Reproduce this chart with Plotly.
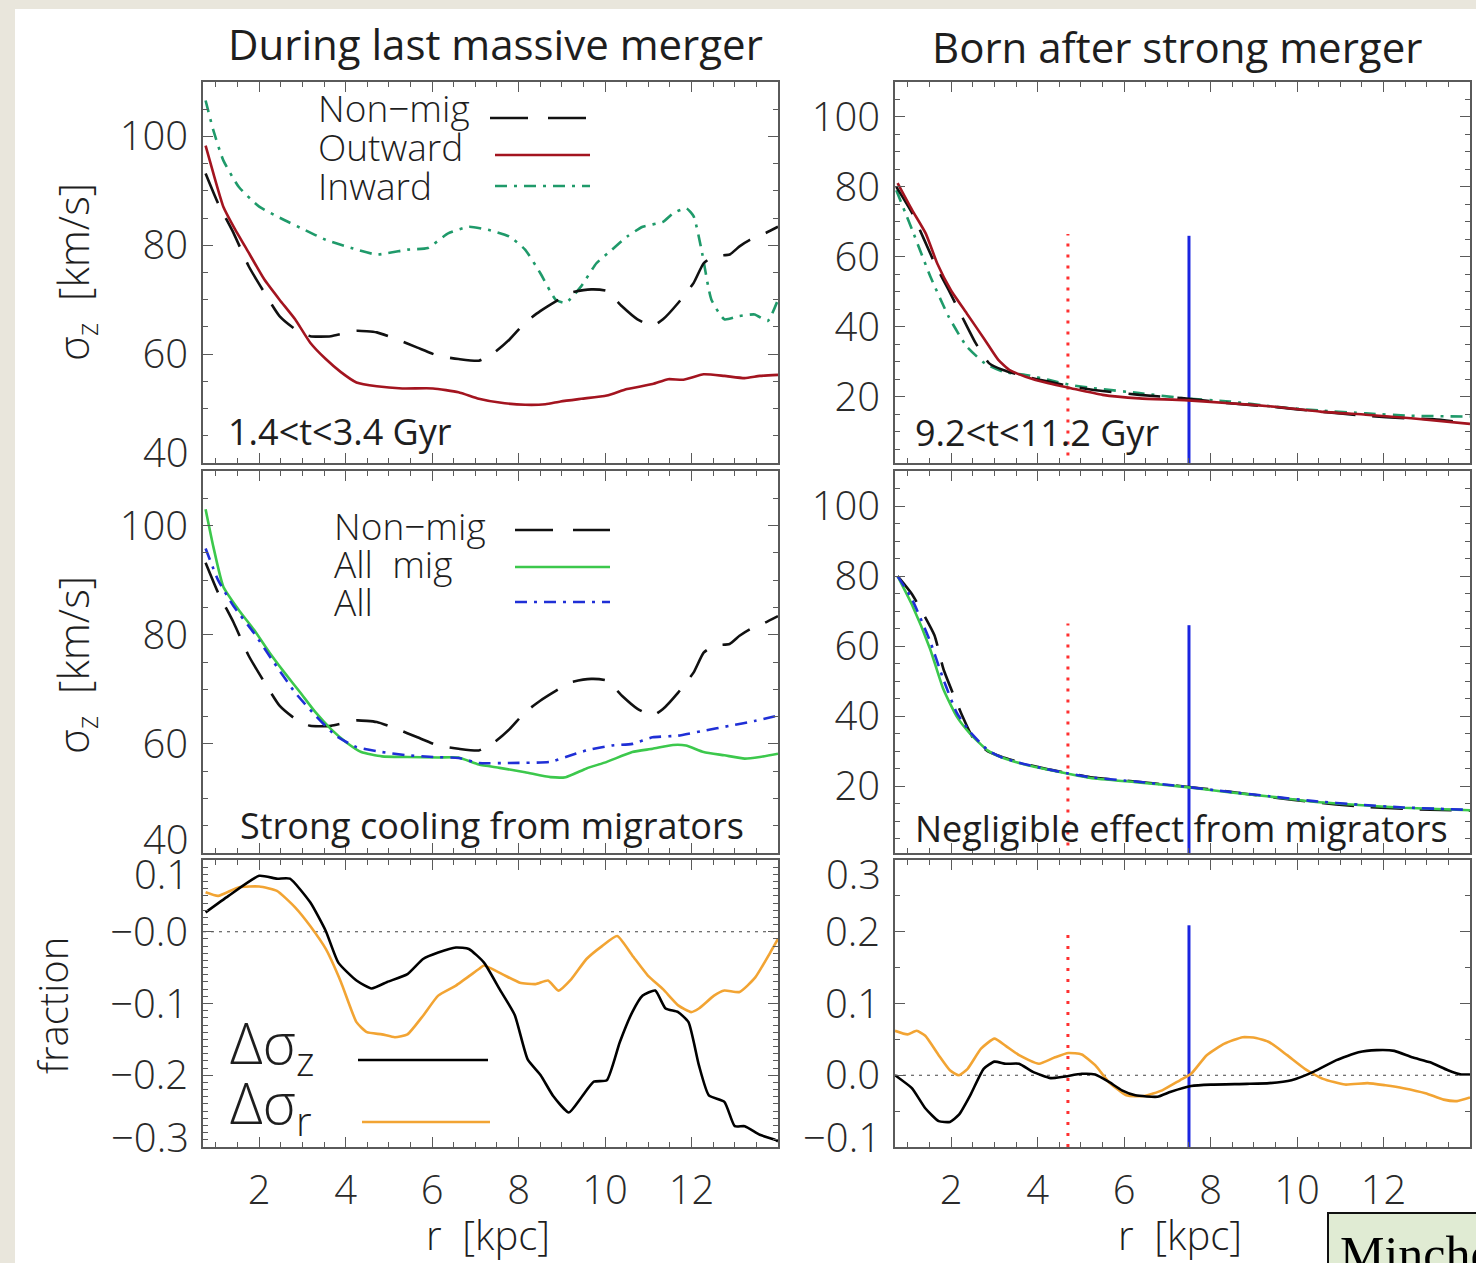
import plotly.graph_objects as go

# ---------------- data ----------------
# Top-left / middle-left: non-migrators (same curve in both panels)
r_nonmig_a = [0.76, 1.05, 1.41, 1.76, 2.12, 2.47, 2.83, 3.18, 3.66, 4.25, 4.72, 5.19, 5.66, 6.14, 6.61,
              7.08, 7.44, 7.79, 8.15, 8.5, 8.86, 9.21, 9.68, 10.04, 10.39, 10.75, 11.1, 11.34, 11.69,
              12.05, 12.28, 12.52, 12.88, 13.11, 13.35, 13.7, 14.0]
s_nonmig_a = [93.2, 87.7, 82.2, 76.1, 71.3, 67.0, 64.6, 63.3, 63.3, 64.3, 64.0, 62.7, 61.2, 59.7, 59.1,
              58.8, 60.3, 62.7, 65.8, 67.9, 69.7, 71.3, 71.9, 71.6, 68.8, 66.4, 65.2, 66.4, 69.4,
              73.1, 76.7, 78.0, 78.3, 79.8, 81.0, 82.2, 83.4]

r_outward_a = [0.76, 0.94, 1.17, 1.41, 1.76, 2.12, 2.47, 2.83, 3.18, 3.54, 3.89, 4.25, 4.72, 5.31, 6.02,
               6.61, 7.08, 7.56, 8.15, 8.62, 8.97, 9.45, 10.04, 10.51, 11.1, 11.46, 11.81, 12.28, 12.76,
               13.23, 13.58, 14.0]
s_outward_a = [98.3, 93.2, 87.1, 83.4, 78.6, 73.7, 70.0, 66.4, 62.1, 59.1, 56.7, 54.8, 54.1, 53.7, 53.7,
               53.0, 51.8, 51.1, 50.7, 50.8, 51.3, 51.8, 52.4, 53.6, 54.5, 55.4, 55.3, 56.3, 56.0,
               55.6, 56.0, 56.2]

r_inward_a = [0.76, 0.94, 1.17, 1.53, 2.0, 2.59, 3.06, 3.54, 4.13, 4.72, 5.43, 5.9, 6.37, 6.85, 7.32,
              7.79, 8.15, 8.5, 8.86, 9.09, 9.45, 9.8, 10.16, 10.51, 10.87, 11.34, 11.58, 11.88, 12.05,
              12.23, 12.46, 12.76, 13.11, 13.46, 13.76, 14.0]
s_inward_a = [106.6, 101.1, 95.6, 90.7, 87.1, 84.6, 82.8, 81.0, 79.5, 78.3, 79.2, 79.5, 82.2, 83.4, 82.8,
              81.6, 79.2, 74.9, 70.0, 69.4, 72.5, 76.7, 79.2, 81.6, 83.4, 84.3, 85.9, 86.8, 85.3,
              79.2, 70.0, 66.4, 67.0, 67.3, 66.1, 70.0]

r_allmig_a = [0.76, 0.94, 1.17, 1.53, 1.88, 2.24, 2.59, 2.95, 3.3, 3.66, 4.01, 4.36, 4.84, 5.43, 6.14,
              6.61, 7.08, 7.56, 8.15, 8.74, 9.09, 9.57, 10.04, 10.63, 11.1, 11.57, 11.87, 12.28, 12.76,
              13.23, 13.58, 14.0]
s_allmig_a = [103.0, 96.1, 88.8, 84.5, 80.9, 76.7, 73.0, 69.4, 65.8, 62.7, 60.3, 58.5, 57.7, 57.6, 57.5,
              57.5, 56.2, 55.6, 54.8, 53.9, 53.9, 55.5, 56.7, 58.5, 59.1, 59.8, 59.7, 58.5, 57.9,
              57.3, 57.6, 58.2]

r_all_a = [0.76, 1.05, 1.41, 1.88, 2.35, 2.83, 3.3, 3.77, 4.25, 4.84, 5.43, 6.02, 6.61, 7.08, 7.79,
           8.74, 9.09, 9.57, 10.16, 10.63, 11.1, 11.69, 12.28, 12.88, 13.46, 14.0]
s_all_a = [95.8, 90.0, 85.2, 80.3, 74.8, 69.4, 65.2, 61.5, 59.4, 58.5, 57.9, 57.6, 57.4, 56.5, 56.5,
           56.7, 57.6, 58.8, 59.7, 60.0, 61.2, 61.5, 62.4, 63.3, 64.2, 65.2]

# Right column (born after strong merger)
r_outward_b = [0.76, 1.1, 1.41, 1.68, 1.99, 2.36, 2.78, 3.09, 3.35, 3.72, 4.25, 4.77, 5.5, 6.35, 7.39,
               8.44, 9.49, 10.54, 11.59, 12.64, 14.0]
s_outward_b = [81.1, 73.3, 66.7, 58.0, 50.5, 43.8, 36.2, 30.5, 27.6, 25.7, 23.8, 22.4, 20.5, 19.5, 19.0,
               18.1, 17.1, 15.7, 14.8, 13.8, 12.2]

r_nonmig_b = [0.73, 1.1, 1.62, 1.94, 2.25, 2.57, 2.88, 3.2, 3.72, 4.25, 4.77, 5.3, 6.35, 7.39, 8.44,
              9.49, 10.54, 11.59, 12.54, 13.17, 14.0]
s_nonmig_b = [80.0, 72.4, 58.1, 50.5, 42.9, 35.2, 29.5, 27.6, 25.7, 24.3, 22.9, 21.9, 20.5, 19.5, 18.1,
              17.0, 15.7, 14.5, 13.8, 13.5, 12.4]

r_inward_b = [0.73, 1.1, 1.52, 1.94, 2.36, 2.78, 3.2, 3.72, 4.25, 4.77, 5.3, 6.35, 7.39, 8.44, 9.49,
              10.54, 11.59, 12.64, 14.0]
s_inward_b = [79.0, 67.6, 54.3, 42.9, 34.3, 29.5, 27.1, 26.2, 24.8, 23.3, 22.4, 21.0, 19.5, 18.6, 17.1,
              16.0, 15.2, 14.5, 14.3]

r_mid_b = [0.76, 1.09, 1.51, 1.82, 2.13, 2.44, 2.85, 3.16, 3.68, 4.19, 4.71, 5.22, 6.26, 7.29, 8.32,
           9.36, 10.39, 11.42, 12.46, 14.0]
s_allmig_b = [80.0, 71.9, 59.3, 47.7, 39.9, 35.0, 30.2, 28.3, 26.3, 24.9, 23.6, 22.4, 21.2, 20.0, 18.5,
              17.1, 15.6, 14.7, 13.9, 13.2]
s_all_b = [80.0, 73.5, 61.5, 50.5, 41.0, 35.5, 30.3, 28.3, 26.4, 25.0, 23.7, 22.6, 21.4, 20.1, 18.6,
           17.2, 15.8, 14.8, 14.0, 13.3]
r_nonmig_mb = [0.76, 1.09, 1.61, 1.82, 2.23, 2.5, 2.85, 3.16, 3.68, 4.19, 4.71, 5.22, 6.26, 7.29, 8.32,
               9.36, 10.39, 11.42, 12.46, 14.0]
s_nonmig_mb = [80.0, 74.9, 63.2, 53.5, 40.9, 34.0, 30.0, 28.5, 26.5, 25.0, 23.8, 22.6, 21.4, 20.1, 18.7,
               17.0, 15.5, 14.3, 13.6, 13.1]

# Bottom panels: fractional differences
r_dz_a = [0.76, 1.29, 2.0, 2.41, 2.71, 3.18, 3.54, 3.83, 4.25, 4.6, 4.96, 5.43, 5.79, 6.14, 6.55, 6.85,
          7.2, 7.56, 7.91, 8.21, 8.51, 8.8, 9.16, 9.45, 9.74, 10.04, 10.34, 10.63, 10.87, 11.16, 11.4,
          11.69, 11.93, 12.17, 12.4, 12.76, 13.0, 13.23, 13.58, 13.94, 14.0]
f_dz_a = [0.027, 0.050, 0.078, 0.074, 0.074, 0.041, 0.001, -0.043, -0.068, -0.079, -0.070, -0.059,
          -0.038, -0.029, -0.022, -0.024, -0.043, -0.080, -0.116, -0.178, -0.200, -0.229, -0.252,
          -0.231, -0.209, -0.207, -0.154, -0.112, -0.089, -0.082, -0.107, -0.112, -0.126, -0.186,
          -0.228, -0.237, -0.271, -0.271, -0.283, -0.290, -0.292]

r_dr_a = [0.76, 1.05, 1.53, 2.0, 2.41, 2.83, 3.18, 3.54, 3.89, 4.25, 4.49, 4.84, 5.14, 5.43, 5.79, 6.14,
          6.55, 7.08, 7.2, 7.62, 8.03, 8.39, 8.68, 8.92, 9.22, 9.57, 9.93, 10.28, 10.63, 10.99, 11.34,
          11.7, 11.99, 12.17, 12.52, 12.76, 13.11, 13.47, 13.82, 14.0]
f_dr_a = [0.055, 0.050, 0.062, 0.063, 0.057, 0.034, 0.008, -0.024, -0.070, -0.126, -0.140, -0.143,
          -0.147, -0.143, -0.117, -0.089, -0.075, -0.052, -0.047, -0.059, -0.071, -0.073, -0.068,
          -0.082, -0.066, -0.038, -0.020, -0.006, -0.033, -0.061, -0.080, -0.103, -0.112, -0.107,
          -0.089, -0.082, -0.084, -0.064, -0.029, -0.010]

r_dz_b = [0.7, 1.09, 1.4, 1.71, 1.97, 2.18, 2.44, 2.75, 3.0, 3.26, 3.57, 3.88, 4.3, 4.6, 5.02, 5.33,
          5.64, 5.95, 6.26, 6.77, 7.08, 7.55, 8.01, 8.84, 9.36, 9.87, 10.39, 10.91, 11.42, 11.84, 12.25,
          12.66, 13.08, 13.49, 13.8, 14.0]
f_dz_b = [0.0, -0.018, -0.046, -0.064, -0.065, -0.055, -0.028, 0.009, 0.019, 0.016, 0.016, 0.005,
          -0.004, -0.002, 0.002, 0.001, -0.009, -0.021, -0.028, -0.030, -0.023, -0.015, -0.013, -0.012,
          -0.011, -0.007, 0.005, 0.021, 0.032, 0.035, 0.034, 0.025, 0.018, 0.007, 0.001, 0.001]

r_dr_b = [0.7, 0.99, 1.2, 1.4, 1.71, 1.97, 2.18, 2.38, 2.69, 3.0, 3.26, 3.57, 4.03, 4.4, 4.71, 5.02,
          5.33, 5.64, 6.05, 6.46, 6.88, 7.29, 7.55, 7.91, 8.32, 8.74, 9.05, 9.36, 9.77, 10.18, 10.6,
          11.11, 11.63, 12.04, 12.46, 12.97, 13.39, 13.7, 14.0]
f_dr_b = [0.062, 0.057, 0.062, 0.055, 0.028, 0.007, 0.0, 0.009, 0.037, 0.051, 0.041, 0.028, 0.016,
          0.025, 0.031, 0.029, 0.014, -0.009, -0.028, -0.029, -0.021, -0.007, 0.002, 0.028, 0.044,
          0.053, 0.052, 0.046, 0.028, 0.009, -0.005, -0.013, -0.011, -0.014, -0.018, -0.025, -0.034,
          -0.036, -0.031]

# reference radii (vertical markers) and their heights
r_marker_red = 4.7
r_marker_blue = 7.5
marker_top_sigma = [66.5, 66.0]
marker_top_frac = [0.203, 0.209]

x_ticks = [2, 4, 6, 8, 10, 12]
x_ticklabels = ["2", "4", "6", "8", "10", "12"]
y_ticks_a = [40, 60, 80, 100]
y_ticklabels_a = ["40", "60", "80", "100"]
y_ticks_b = [20, 40, 60, 80, 100]
y_ticklabels_b = ["20", "40", "60", "80", "100"]
f_ticks_a = [0.1, 0.0, -0.1, -0.2, -0.3]
f_ticklabels_a = ["0.1", "\u22120.0", "\u22120.1", "\u22120.2", "\u22120.3"]
f_ticks_b = [0.3, 0.2, 0.1, 0.0, -0.1]
f_ticklabels_b = ["0.3", "0.2", "0.1", "0.0", "\u22120.1"]

# ---------------- styling ----------------
W, H = 1476, 1263
BEIGE = "#e9e6dc"
FRAME = "#5a5a5a"
TXT = "#1e1e1e"
C_NONMIG = "#111111"
C_OUT = "#a3141f"
C_IN = "#1f9a6a"
C_ALLMIG = "#3cc84c"
C_ALL = "#1f2fd6"
C_ORANGE = "#f2a433"
C_RED = "#ff3030"
C_BLUE = "#1a24e0"
DASH_NM = "32px,17px"
DASH_DD = "12px,7px,3px,7px"
TICKSIZE = 40
TICKFONT = dict(family="Open Sans", size=TICKSIZE, color="#2a2a2a", weight=300)


def fx(p):
    return p / W


def fy(p):
    return 1 - p / H


XL = [fx(203), fx(778)]
XR = [fx(895), fx(1470)]
YT = [fy(463), fy(82)]
YM = [fy(853), fy(471)]
YB = [fy(1147), fy(860)]

fig = go.Figure()


def add_line(x, y, ax, color, dash="solid", width=2.6):
    fig.add_trace(go.Scatter(x=x, y=y, mode="lines", xaxis="x" + ax, yaxis="y" + ax,
                             line=dict(color=color, dash=dash, width=width, shape="spline", smoothing=0.5),
                             showlegend=False, hoverinfo="skip"))


def add_seg(x, y, ax, color, dash="solid", width=2.6):
    fig.add_trace(go.Scatter(x=x, y=y, mode="lines", xaxis="x" + ax, yaxis="y" + ax,
                             line=dict(color=color, dash=dash, width=width),
                             showlegend=False, hoverinfo="skip"))


# top-left
add_line(r_inward_a, s_inward_a, "", C_IN, DASH_DD)
add_line(r_nonmig_a, s_nonmig_a, "", C_NONMIG, DASH_NM)
add_line(r_outward_a, s_outward_a, "", C_OUT)
# top-right
add_seg([r_marker_red, r_marker_red], [0, marker_top_sigma[0]], "2", C_RED, "3px,8px", 3)
add_seg([r_marker_blue, r_marker_blue], [0, marker_top_sigma[1]], "2", C_BLUE, "solid", 3)
add_line(r_inward_b, s_inward_b, "2", C_IN, DASH_DD)
add_line(r_nonmig_b, s_nonmig_b, "2", C_NONMIG, DASH_NM)
add_line(r_outward_b, s_outward_b, "2", C_OUT)
# middle-left
add_line(r_nonmig_a, s_nonmig_a, "3", C_NONMIG, DASH_NM)
add_line(r_allmig_a, s_allmig_a, "3", C_ALLMIG)
add_line(r_all_a, s_all_a, "3", C_ALL, DASH_DD)
# middle-right
add_seg([r_marker_red, r_marker_red], [0, marker_top_sigma[0]], "4", C_RED, "3px,8px", 3)
add_seg([r_marker_blue, r_marker_blue], [0, marker_top_sigma[1]], "4", C_BLUE, "solid", 3)
add_line(r_nonmig_mb, s_nonmig_mb, "4", C_NONMIG, DASH_NM)
add_line(r_mid_b, s_allmig_b, "4", C_ALLMIG)
add_line(r_mid_b, s_all_b, "4", C_ALL, DASH_DD)
# bottom-left
add_seg([0.7, 14.0], [0, 0], "5", "#444444", "3px,5px", 1.2)
add_line(r_dr_a, f_dr_a, "5", C_ORANGE)
add_line(r_dz_a, f_dz_a, "5", "#000000")
# bottom-right
add_seg([0.7, 14.0], [0, 0], "6", "#444444", "3px,5px", 1.2)
add_seg([r_marker_red, r_marker_red], [-0.1, marker_top_frac[0]], "6", C_RED, "3px,8px", 3)
add_seg([r_marker_blue, r_marker_blue], [-0.1, marker_top_frac[1]], "6", C_BLUE, "solid", 3)
add_line(r_dr_b, f_dr_b, "6", C_ORANGE)
add_line(r_dz_b, f_dz_b, "6", "#000000")


def xax(domain, anchor, labels):
    return dict(domain=domain, anchor=anchor, range=[0.7, 14.0], tickvals=x_ticks, ticktext=x_ticklabels,
                showticklabels=labels, ticks="inside", ticklen=10, tickwidth=1.3, tickcolor=FRAME,
                minor=dict(ticks="inside", dtick=0.5, tick0=0, ticklen=5, tickcolor=FRAME, tickwidth=1),
                mirror="allticks", showline=True, linecolor=FRAME, linewidth=1.6, showgrid=False,
                zeroline=False, tickfont=TICKFONT, ticklabelstandoff=7)


def yax(domain, anchor, rng, tv, tt, mdt, hide_edge):
    # labels sitting exactly on the frame edge are drawn separately, nudged inward like the original
    tt = ["" if v in hide_edge else t for v, t in zip(tv, tt)]
    return dict(domain=domain, anchor=anchor, range=rng, tickvals=tv, ticktext=tt,
                ticks="inside", ticklen=10, tickwidth=1.3, tickcolor=FRAME,
                minor=dict(ticks="inside", dtick=mdt, tick0=0, ticklen=5, tickcolor=FRAME, tickwidth=1),
                mirror="allticks", showline=True, linecolor=FRAME, linewidth=1.6, showgrid=False,
                zeroline=False, tickfont=TICKFONT, ticklabelstandoff=5)


layout = dict(
    width=W, height=H, margin=dict(l=0, r=0, t=0, b=0),
    paper_bgcolor="white", plot_bgcolor="white",
    xaxis=xax(XL, "y", False), yaxis=yax(YT, "x", [40, 110], y_ticks_a, y_ticklabels_a, 5, [40]),
    xaxis2=xax(XR, "y2", False), yaxis2=yax(YT, "x2", [1, 110], y_ticks_b, y_ticklabels_b, 5, []),
    xaxis3=xax(XL, "y3", False), yaxis3=yax(YM, "x3", [40, 110], y_ticks_a, y_ticklabels_a, 5, [40]),
    xaxis4=xax(XR, "y4", False), yaxis4=yax(YM, "x4", [1, 110], y_ticks_b, y_ticklabels_b, 5, []),
    xaxis5=xax(XL, "y5", True),
    yaxis5=yax(YB, "x5", [-0.3, 0.1], f_ticks_a, f_ticklabels_a, 0.01, [0.1, -0.3]),
    xaxis6=xax(XR, "y6", True),
    yaxis6=yax(YB, "x6", [-0.1, 0.3], f_ticks_b, f_ticklabels_b, 0.05, [0.3, -0.1]),
)
fig.update_layout(**layout)

shapes = [
    dict(type="rect", xref="paper", yref="paper", x0=0, x1=fx(15), y0=0, y1=1,
         fillcolor=BEIGE, line=dict(width=0), layer="below"),
    dict(type="rect", xref="paper", yref="paper", x0=0, x1=1, y0=fy(9), y1=1,
         fillcolor=BEIGE, line=dict(width=0), layer="below"),
    dict(type="rect", xref="paper", yref="paper", x0=fx(1328), x1=fx(1490), y0=fy(1280), y1=fy(1213),
         fillcolor="#e0ebd3", line=dict(color="#111111", width=2)),
]


def legline(x0, x1, y, color, dash, width=2.6):
    shapes.append(dict(type="line", xref="paper", yref="paper", x0=fx(x0), x1=fx(x1), y0=fy(y), y1=fy(y),
                       line=dict(color=color, dash=dash, width=width)))


legline(490, 590, 118, C_NONMIG, "38px,20px")
legline(495, 590, 155, C_OUT, "solid")
legline(495, 590, 186, C_IN, DASH_DD)
legline(515, 610, 530, C_NONMIG, "38px,20px")
legline(515, 610, 567, C_ALLMIG, "solid")
legline(515, 610, 602, C_ALL, DASH_DD)
legline(358, 488, 1060, "#000000", "solid")
legline(362, 490, 1122, C_ORANGE, "solid")
fig.update_layout(shapes=shapes)

ann = []


def text(x, y, s, size, xanchor="left", family="Open Sans", weight=400, angle=0, color=TXT, yanchor="middle"):
    ann.append(dict(x=fx(x), y=fy(y), xref="paper", yref="paper", text=s, showarrow=False,
                    xanchor=xanchor, yanchor=yanchor, textangle=angle,
                    font=dict(family=family, size=size, color=color, weight=weight)))


text(495, 43, "During last massive merger", 42, "center")
text(1177, 47, "Born after strong merger", 42, "center")
text(75, 272, "\u03c3<sub>z</sub>  [km/s]", 42, "center", weight=300, angle=-90)
text(75, 665, "\u03c3<sub>z</sub>  [km/s]", 42, "center", weight=300, angle=-90)
text(52, 1005, "fraction", 40, "center", weight=300, angle=-90)
text(488, 1234, "r  [kpc]", 40, "center", weight=300)
text(1180, 1234, "r  [kpc]", 40, "center", weight=300)

# tick labels on frame edges (nudged inward)
text(191, 451, y_ticklabels_a[0], TICKSIZE, "right", weight=300, color="#2a2a2a")
text(191, 838, y_ticklabels_a[0], TICKSIZE, "right", weight=300, color="#2a2a2a")
text(191, 873, f_ticklabels_a[0], TICKSIZE, "right", weight=300, color="#2a2a2a")
text(191, 1136, f_ticklabels_a[-1], TICKSIZE, "right", weight=300, color="#2a2a2a")
text(883, 873, f_ticklabels_b[0], TICKSIZE, "right", weight=300, color="#2a2a2a")
text(883, 1136, f_ticklabels_b[-1], TICKSIZE, "right", weight=300, color="#2a2a2a")

text(316, 108, "Non\u2212mig", 37, weight=300)
text(316, 146, "Outward", 37, weight=300)
text(316, 185, "Inward", 37, weight=300)
text(332, 525, "Non\u2212mig", 37, weight=300)
text(332, 563, "All  mig", 37, weight=300)
text(332, 601, "All", 37, weight=300)

text(226, 431, "1.4&lt;t&lt;3.4 Gyr", 36)
text(913, 432, "9.2&lt;t&lt;11.2 Gyr", 36)
text(238, 825, "Strong cooling from migrators", 36)
text(913, 828, "Negligible effect from migrators", 36)

text(228, 1045, "\u0394\u03c3<sub>z</sub>", 57, weight=300)
text(228, 1105, "\u0394\u03c3<sub>r</sub>", 57, weight=300)

text(1338, 1224, "Minchev", 50, family="Liberation Serif", yanchor="top", color="#000000")

fig.update_layout(annotations=ann)

fig.write_html("out.html")
